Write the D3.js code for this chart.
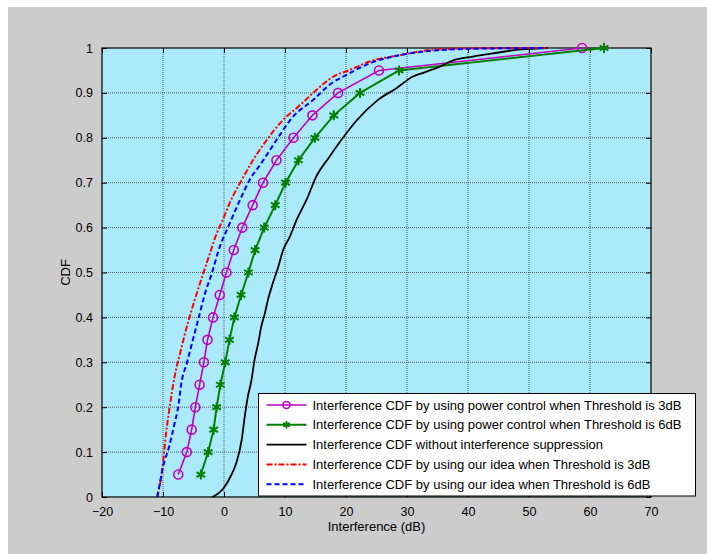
<!DOCTYPE html>
<html><head><meta charset="utf-8">
<script src="https://cdn.jsdelivr.net/npm/d3@7"></script>
<style>html,body{margin:0;padding:0;background:#fff;}svg{display:block;}</style>
</head><body>
<script>
// ---- data ----
const xTicks = [-20,-10,0,10,20,30,40,50,60,70];
const yTicks = [0,0.1,0.2,0.3,0.4,0.5,0.6,0.7,0.8,0.9,1];
const yTickLabels = ["0","0.1","0.2","0.3","0.4","0.5","0.6","0.7","0.8","0.9","1"];

const pcProb = [0.05,0.1,0.15,0.2,0.25,0.3,0.35,0.4,0.45,0.5,0.55,0.6,0.65,0.7,0.75,0.8,0.85,0.9,0.95,1.0];
const pc3X = [-7.5,-6.1,-5.3,-4.7,-4.0,-3.3,-2.7,-1.8,-0.7,0.4,1.6,3.0,4.7,6.4,8.6,11.4,14.5,18.7,25.4,58.7];
const pc6X = [-3.8,-2.6,-1.7,-1.2,-0.6,0.2,0.9,1.7,2.8,4.0,5.1,6.6,8.4,10.1,12.2,14.9,18.0,22.3,28.7,62.3];

const noSupX = [-1.9,-0.1,1.2,2.0,2.9,3.4,3.9,4.5,5.0,5.6,6.1,6.7,7.2,8.0,8.9,9.7,10.8,11.9,13.5,15.1,17.3,19.5,21.7,25.2,28.2,30.9,33.1,35.3,37.5,40.8,45.1,47.9,50.6,53.0];
const noSupY = [0,0.019,0.049,0.075,0.127,0.179,0.223,0.26,0.305,0.342,0.379,0.409,0.439,0.476,0.513,0.55,0.58,0.617,0.661,0.713,0.758,0.80,0.838,0.884,0.91,0.936,0.947,0.958,0.972,0.981,0.99,0.996,0.998,1.0];

const idea3X = [-11.0,-10.2,-9.5,-8.9,-8.1,-7.2,-6.1,-4.8,-3.4,-2.3,-1.2,-0.2,0.9,2.9,4.8,7.0,9.7,12.4,15.1,17.9,20.6,23.9,28.8,34.2,39.7,52.8];
const idea3Y = [0,0.053,0.142,0.201,0.268,0.32,0.379,0.439,0.498,0.543,0.587,0.617,0.654,0.706,0.751,0.795,0.84,0.872,0.906,0.936,0.951,0.97,0.984,0.996,0.999,1.0];

const idea6X = [-10.9,-10.0,-9.0,-8.1,-7.5,-7.0,-6.1,-5.1,-4.1,-3.1,-2.0,-0.7,0.7,2.6,4.2,6.1,8.6,11.3,14.6,17.3,20.6,23.9,28.8,34.2,39.7,52.8];
const idea6Y = [0,0.067,0.112,0.164,0.201,0.253,0.298,0.35,0.402,0.454,0.498,0.557,0.602,0.661,0.706,0.743,0.795,0.847,0.884,0.918,0.944,0.966,0.984,0.994,0.998,1.0];

const legendLabels = [
  "Interference CDF by using power control when Threshold is 3dB",
  "Interference CDF by using power control when Threshold is 6dB",
  "Interference CDF without interference suppression",
  "Interference CDF by using our idea when Threshold is 3dB",
  "Interference CDF by using our idea when Threshold is 6dB"
];

// ---- layout ----
const W = 707, H = 554;
const L = 102, R = 651, T = 48, B = 497;
const font = "'Liberation Sans', Arial, sans-serif";

const svg = d3.select("body").append("svg").attr("width", W).attr("height", H);
svg.append("rect").attr("x",0).attr("y",0).attr("width",W).attr("height",H).attr("fill","#fff");
svg.append("rect").attr("x",8).attr("y",7).attr("width",W-8).attr("height",H-7).attr("fill","#cccccc");

const x = d3.scaleLinear().domain([-20,70]).range([L,R]);
const y = d3.scaleLinear().domain([0,1]).range([B,T]);

svg.append("rect").attr("x",L).attr("y",T).attr("width",R-L).attr("height",B-T).attr("fill","#aaeafa");

// grid
const grid = svg.append("g");
grid.selectAll(".gx").data(xTicks.slice(1,-1)).enter().append("line")
  .attr("x1",d=>x(d)).attr("x2",d=>x(d)).attr("y1",T).attr("y2",B)
  .attr("stroke","#333").attr("stroke-width",1).attr("stroke-dasharray","1,1").attr("opacity",0.75);
grid.selectAll(".gy").data(yTicks.slice(1,-1)).enter().append("line")
  .attr("y1",d=>y(d)).attr("y2",d=>y(d)).attr("x1",L).attr("x2",R)
  .attr("stroke","#333").attr("stroke-width",1).attr("stroke-dasharray","1,1").attr("opacity",0.75);

// axes (ticks inward)
const ax = d3.axisBottom(x).tickValues(xTicks).tickSizeInner(-5).tickSizeOuter(0).tickPadding(10).tickFormat(d3.format("d"));
const ay = d3.axisLeft(y).tickValues(yTicks).tickSizeInner(-5).tickSizeOuter(0).tickPadding(9).tickFormat((d,i)=>yTickLabels[i]);
const axT = d3.axisTop(x).tickValues(xTicks).tickSizeInner(-5).tickSizeOuter(0).tickFormat("");
const ayR = d3.axisRight(y).tickValues(yTicks).tickSizeInner(-5).tickSizeOuter(0).tickFormat("");

function styleAxis(g){
  g.select(".domain").remove();
  g.selectAll("line").attr("stroke","#000");
  g.selectAll("text").attr("fill","#000").style("font-family",font).style("font-size","12.5px");
}
svg.append("g").attr("transform",`translate(0,${B})`).call(ax).call(styleAxis);
svg.append("g").attr("transform",`translate(${L},0)`).call(ay).call(styleAxis);
svg.append("g").attr("transform",`translate(0,${T})`).call(axT).call(styleAxis);
svg.append("g").attr("transform",`translate(${R},0)`).call(ayR).call(styleAxis);

svg.append("rect").attr("x",L).attr("y",T).attr("width",R-L).attr("height",B-T)
  .attr("fill","none").attr("stroke","#000").attr("stroke-width",1.2);

// clip
svg.append("defs").append("clipPath").attr("id","clip").append("rect")
  .attr("x",L-6).attr("y",T-8).attr("width",R-L+12).attr("height",B-T+9);
const plot = svg.append("g").attr("clip-path","url(#clip)");

const line = d3.line().x(d=>x(d[0])).y(d=>y(d[1]));
const smooth = d3.line().x(d=>x(d[0])).y(d=>y(d[1])).curve(d3.curveMonotoneX);
const MAG = "#c000c0", GRN = "#008000";

const pc3 = pc3X.map((v,i)=>[v,pcProb[i]]);
const pc6 = pc6X.map((v,i)=>[v,pcProb[i]]);
const noSup = noSupX.map((v,i)=>[v,noSupY[i]]);
const idea3 = idea3X.map((v,i)=>[v,idea3Y[i]]);
const idea6 = idea6X.map((v,i)=>[v,idea6Y[i]]);

plot.append("path").datum(pc3).attr("d",line).attr("fill","none").attr("stroke",MAG).attr("stroke-width",1.6);
plot.selectAll(".c").data(pc3).enter().append("circle")
  .attr("cx",d=>x(d[0])).attr("cy",d=>y(d[1])).attr("r",4.5)
  .attr("fill","none").attr("stroke",MAG).attr("stroke-width",1.6);

plot.append("path").datum(pc6).attr("d",line).attr("fill","none").attr("stroke",GRN).attr("stroke-width",2);
const star = d3.symbol().type(d3.symbolAsterisk).size(70);
plot.selectAll(".s").data(pc6).enter().append("path")
  .attr("transform",d=>`translate(${x(d[0])},${y(d[1])})`).attr("d",star)
  .attr("fill","none").attr("stroke",GRN).attr("stroke-width",2);

plot.append("path").datum(noSup).attr("d",smooth).attr("fill","none").attr("stroke","#000").attr("stroke-width",1.8);
plot.append("path").datum(idea3).attr("d",smooth).attr("fill","none").attr("stroke","#ff0000").attr("stroke-width",2).attr("stroke-dasharray","6,2,2,2");
plot.append("path").datum(idea6).attr("d",smooth).attr("fill","none").attr("stroke","#0000ff").attr("stroke-width",2).attr("stroke-dasharray","5,3");

// axis titles
svg.append("text").attr("x",(L+R)/2).attr("y",531).attr("text-anchor","middle")
  .style("font-family",font).style("font-size","13px").text("Interference (dB)");
svg.append("text").attr("transform",`translate(70,${(T+B)/2}) rotate(-90)`).attr("text-anchor","middle")
  .style("font-family",font).style("font-size","13px").text("CDF");

// legend
const lg = svg.append("g");
lg.append("rect").attr("x",258.5).attr("y",393.5).attr("width",437).attr("height",102.5)
  .attr("fill","#fff").attr("stroke","#000").attr("stroke-width",1);
const styles = [
  {c:MAG,w:1.6,dash:null,m:"circle"},
  {c:GRN,w:2,dash:null,m:"star"},
  {c:"#000",w:1.8,dash:null,m:null},
  {c:"#ff0000",w:2,dash:"6,2,2,2",m:null},
  {c:"#0000ff",w:2,dash:"5,3",m:null}
];
const rows = lg.selectAll(".row").data(legendLabels).enter().append("g")
  .attr("transform",(d,i)=>`translate(0,${405+i*19.8})`);
rows.append("line").attr("x1",266.5).attr("x2",306.5).attr("y1",0).attr("y2",0)
  .attr("stroke",(d,i)=>styles[i].c).attr("stroke-width",(d,i)=>styles[i].w)
  .attr("stroke-dasharray",(d,i)=>styles[i].dash);
rows.filter((d,i)=>styles[i].m==="circle").append("circle").attr("cx",286.5).attr("cy",0).attr("r",3.5)
  .attr("fill","none").attr("stroke",MAG).attr("stroke-width",1.6);
rows.filter((d,i)=>styles[i].m==="star").append("path").attr("transform","translate(286.5,0)")
  .attr("d",d3.symbol().type(d3.symbolAsterisk).size(40)).attr("fill","none").attr("stroke",GRN).attr("stroke-width",1.8);
rows.append("text").attr("x",312.5).attr("y",4.6)
  .style("font-family",font).style("font-size","13px").attr("fill","#000").text(d=>d);
</script>
</body></html>
